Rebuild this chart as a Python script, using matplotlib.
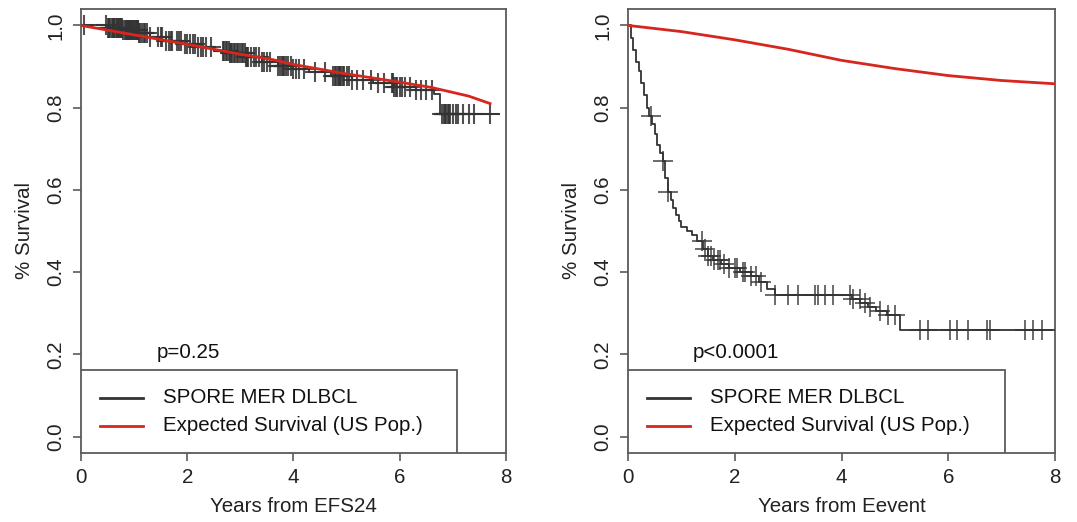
import numpy as np
import matplotlib.pyplot as plt
from matplotlib.patches import Rectangle

plt.rcParams['font.family'] = ['Liberation Sans', 'DejaVu Sans']

# ---- left panel: Years from EFS24 ----
km1_t = [0, 0.5, 0.8, 1.1, 1.3, 1.6, 1.9, 2.2, 2.5, 2.8, 3.1, 3.4, 3.7, 4.0,
         4.3, 4.7, 5.1, 5.5, 5.9, 6.3, 6.65, 6.75, 7.87]
km1_s = [1.0, 0.993, 0.988, 0.982, 0.972, 0.962, 0.955, 0.947, 0.938, 0.932,
         0.922, 0.912, 0.902, 0.893, 0.886, 0.876, 0.868, 0.86, 0.851, 0.843,
         0.833, 0.785, 0.785]
cens1 = [0.05, 0.48, 0.5, 0.53, 0.55, 0.58, 0.6, 0.62, 0.63, 0.65, 0.67, 0.7,
         0.72, 0.74, 0.76, 0.78, 0.8, 0.82, 0.84, 0.86, 0.88, 0.9, 0.92, 0.93,
         0.95, 0.96, 0.98, 1.0, 1.02, 1.04, 1.05, 1.07, 1.08, 1.1, 1.12, 1.15,
         1.18, 1.2, 1.25, 1.3, 1.45, 1.5, 1.53, 1.6, 1.65, 1.7, 1.72, 1.8,
         1.85, 1.88, 1.95, 2.0, 2.05, 2.1, 2.15, 2.2, 2.25, 2.3, 2.35, 2.45,
         2.68, 2.7, 2.73, 2.75, 2.78, 2.8, 2.83, 2.85, 2.88, 2.9, 2.93, 2.95,
         3.0, 3.03, 3.05, 3.08, 3.1, 3.13, 3.15, 3.2, 3.25, 3.3, 3.35, 3.4,
         3.45, 3.5, 3.55, 3.7, 3.75, 3.78, 3.8, 3.83, 3.85, 3.9, 3.95, 4.0,
         4.05, 4.1, 4.2, 4.4, 4.6, 4.75, 4.78, 4.8, 4.83, 4.85, 4.88, 4.9,
         4.93, 4.95, 5.0, 5.05, 5.1, 5.2, 5.3, 5.45, 5.6, 5.7, 5.85, 5.88,
         5.9, 5.93, 5.95, 6.0, 6.05, 6.1, 6.2, 6.3, 6.4, 6.5, 6.6, 6.8, 6.83,
         6.85, 6.88, 6.9, 6.93, 6.95, 7.0, 7.05, 7.1, 7.2, 7.3, 7.4, 7.7]
exp1_t = [0, 1, 2, 3, 3.6, 4, 5, 6, 6.6, 7.3, 7.7]
exp1_s = [1.0, 0.977, 0.954, 0.93, 0.917, 0.905, 0.882, 0.862, 0.849, 0.828, 0.81]

# ---- right panel: Years from Eevent ----
km2_t = [0, 0.05, 0.1, 0.15, 0.2, 0.25, 0.3, 0.35, 0.4, 0.45, 0.5, 0.55, 0.6,
         0.65, 0.7, 0.75, 0.8, 0.85, 0.9, 0.95, 1.0, 1.1, 1.2, 1.3, 1.4, 1.5,
         1.6, 1.75, 1.9, 2.1, 2.3, 2.45, 2.6, 2.75, 4.2, 4.35, 4.5, 4.65,
         4.85, 5.1, 8.0]
km2_s = [1.0, 0.97, 0.94, 0.91, 0.89, 0.86, 0.83, 0.80, 0.78, 0.76, 0.735,
         0.71, 0.69, 0.67, 0.63, 0.595, 0.575, 0.555, 0.54, 0.525, 0.51, 0.50,
         0.49, 0.475, 0.455, 0.44, 0.43, 0.42, 0.41, 0.40, 0.39, 0.375, 0.36,
         0.345, 0.335, 0.325, 0.315, 0.305, 0.295, 0.26, 0.26]
cens2 = [0.44, 0.66, 0.75, 1.38, 1.45, 1.5, 1.55, 1.62, 1.68, 1.72, 1.8, 1.9,
         2.0, 2.05, 2.15, 2.2, 2.3, 2.4, 2.5, 2.75, 3.0, 3.18, 3.5, 3.56,
         3.69, 3.84, 4.16, 4.21, 4.34, 4.44, 4.53, 4.72, 4.87, 5.0, 5.47,
         5.62, 6.03, 6.16, 6.37, 6.72, 6.78, 7.43, 7.58, 7.75]
exp2_t = [0, 1, 2, 3, 4, 5, 6, 7, 8]
exp2_s = [1.0, 0.985, 0.965, 0.942, 0.915, 0.895, 0.878, 0.866, 0.858]

xlabels = ['Years from EFS24', 'Years from Eevent']
pvals = ['p=0.25', 'p<0.0001']
legend_labels = ['SPORE MER DLBCL', 'Expected Survival (US Pop.)']

black = '#333333'
red = '#d7261e'
grey = '#5a5a5a'
fs = 14.8

fig = plt.figure(figsize=(10.77, 5.22), dpi=100)
ax1 = fig.add_axes([0.0752, 0.1322, 0.3946, 0.8506])
ax2 = fig.add_axes([0.5831, 0.1322, 0.3965, 0.8506])

panels = [(ax1, km1_t, km1_s, cens1, exp1_t, exp1_s),
          (ax2, km2_t, km2_s, cens2, exp2_t, exp2_s)]

for i, (ax, kt, ks, cens, et, es) in enumerate(panels):
    kt = np.array(kt)
    ks = np.array(ks)
    ax.step(kt, ks, where='post', color=black, lw=1.3, zorder=3)
    idx = np.searchsorted(kt, cens, side='right') - 1
    ax.plot(cens, ks[idx], ls='none', marker='+', ms=14, mew=1.5 if i == 0 else 1.2,
            color=black, alpha=0.85, zorder=3)
    ax.plot(et, es, color=red, lw=2.0, zorder=4)

    ax.set_xlim(0, 8)
    ax.set_ylim(-0.04, 1.04)
    ax.set_xticks([0, 2, 4, 6, 8])
    ax.set_yticks([0.0, 0.2, 0.4, 0.6, 0.8, 1.0])
    ax.set_yticklabels(['0.0', '0.2', '0.4', '0.6', '0.8', '1.0'],
                       rotation=90, va='center')
    ax.tick_params(direction='out', length=6, width=1.2, color=grey,
                   labelsize=fs, labelcolor='#222222', pad=5)
    for sp in ax.spines.values():
        sp.set_color(grey)
        sp.set_linewidth(1.3)
    ax.set_xlabel(xlabels[i], fontsize=fs, color='#222222', labelpad=7)
    ax.set_ylabel('% Survival', fontsize=fs, color='#222222', labelpad=9)

    ax.text(1.43 if i == 0 else 1.22, 0.205, pvals[i], fontsize=fs,
            color='#111111', va='center', ha='left')

    # legend box in the R style
    ax.add_patch(Rectangle((0, 0), 0.884, 0.186, transform=ax.transAxes,
                           fill=True, facecolor='white', edgecolor=grey,
                           lw=1.3, zorder=5))
    for y, c, lab in zip([0.124, 0.061], [black, red], legend_labels):
        ax.plot([0.045, 0.146], [y, y], transform=ax.transAxes, color=c,
                lw=2.0, zorder=6)
        ax.text(0.193, y, lab, transform=ax.transAxes, fontsize=fs,
                color='#111111', va='center', ha='left', zorder=6)

fig.savefig('out.png', dpi=100)
